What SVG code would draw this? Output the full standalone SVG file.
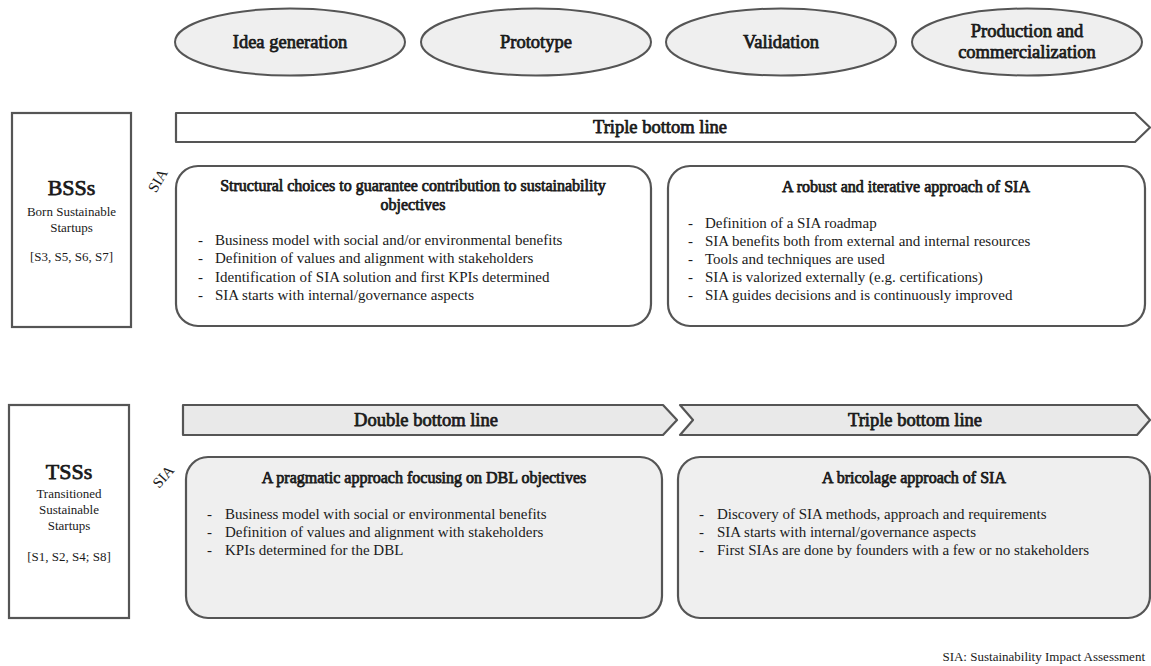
<svg xmlns="http://www.w3.org/2000/svg" width="1151" height="666" viewBox="0 0 1151 666">
<style>
  text { font-family: "Liberation Serif", "Times New Roman", serif; fill: #1a1a1a; }
  .b { stroke: #1a1a1a; stroke-width: 0.75; stroke-linejoin: round; }
  .phase { fill: #efefef; stroke: #555; stroke-width: 2; }
  .ph { font-size: 18.5px; text-anchor: middle; }
  .arrowW { fill: #ffffff; stroke: #555; stroke-width: 2.2; stroke-linejoin: round; }
  .arrowG { fill: #e9e9e9; stroke: #555; stroke-width: 2.2; stroke-linejoin: round; }
  .lab { font-size: 18.5px; text-anchor: middle; }
  .side { fill: #ffffff; stroke: #555; stroke-width: 2.2; }
  .big { font-size: 22px; text-anchor: middle; }
  .small { font-size: 13px; text-anchor: middle; }
  .boxW { fill: #ffffff; stroke: #555; stroke-width: 2.2; }
  .boxG { fill: #efefef; stroke: #555; stroke-width: 2.2; }
  .title { font-size: 16px; text-anchor: middle; }
  .body { font-size: 15px; }
  .sia { font-size: 15px; }
  .foot { font-size: 13px; text-anchor: end; }
</style>

<g id="phase-idea">
  <ellipse class="phase" cx="290" cy="42" rx="115" ry="33.5"/>
  <text class="ph b" x="290" y="48">Idea generation</text>
</g>
<g id="phase-prototype">
  <ellipse class="phase" cx="536" cy="42" rx="115" ry="33.5"/>
  <text class="ph b" x="536" y="48">Prototype</text>
</g>
<g id="phase-validation">
  <ellipse class="phase" cx="781" cy="42" rx="115" ry="33.5"/>
  <text class="ph b" x="781" y="48">Validation</text>
</g>
<g id="phase-production">
  <ellipse class="phase" cx="1027" cy="42" rx="115" ry="33.5"/>
  <text class="ph b" x="1027" y="37">Production and</text>
  <text class="ph b" x="1027" y="58">commercialization</text>
</g>

<g id="bss">
  <rect class="side" x="12" y="113" width="119" height="214"/>
  <text class="big b" x="71.5" y="195">BSSs</text>
  <text class="small" x="71.5" y="216">Born Sustainable</text>
  <text class="small" x="71.5" y="232">Startups</text>
  <text class="small" x="71.5" y="261">[S3, S5, S6, S7]</text>
</g>

<g id="bss-tbl">
  <path class="arrowW" d="M176,113 L1135,113 L1150,127.5 L1135,142 L176,142 Z"/>
  <text class="lab b" x="660" y="133">Triple bottom line</text>
</g>

<g id="bss-sia-label">
  <text class="sia" x="0" y="0" text-anchor="middle" transform="translate(162,183) rotate(-60)">SIA</text>
</g>

<g id="bss-structural">
  <rect class="boxW" x="176" y="166" width="475" height="160" rx="22" ry="22"/>
  <text class="title b" x="413" y="191">Structural choices to guarantee contribution to sustainability</text>
  <text class="title b" x="413" y="210">objectives</text>
  <g class="body">
    <text x="198" y="245">-</text><text x="215" y="245">Business model with social and/or environmental benefits</text>
    <text x="198" y="263">-</text><text x="215" y="263">Definition of values and alignment with stakeholders</text>
    <text x="198" y="282">-</text><text x="215" y="282">Identification of SIA solution and first KPIs determined</text>
    <text x="198" y="300">-</text><text x="215" y="300">SIA starts with internal/governance aspects</text>
  </g>
</g>

<g id="bss-robust">
  <rect class="boxW" x="668" y="166" width="477" height="160" rx="22" ry="22"/>
  <text class="title b" x="906" y="192">A robust and iterative approach of SIA</text>
  <g class="body">
    <text x="688" y="228">-</text><text x="705" y="228">Definition of a SIA roadmap</text>
    <text x="688" y="246">-</text><text x="705" y="246">SIA benefits both from external and internal resources</text>
    <text x="688" y="264">-</text><text x="705" y="264">Tools and techniques are used</text>
    <text x="688" y="282">-</text><text x="705" y="282">SIA is valorized externally (e.g. certifications)</text>
    <text x="688" y="300">-</text><text x="705" y="300">SIA guides decisions and is continuously improved</text>
  </g>
</g>

<g id="tss">
  <rect class="side" x="9" y="405" width="120" height="213"/>
  <text class="big b" x="69" y="479">TSSs</text>
  <text class="small" x="69" y="498">Transitioned</text>
  <text class="small" x="69" y="514">Sustainable</text>
  <text class="small" x="69" y="530">Startups</text>
  <text class="small" x="69" y="561">[S1, S2, S4; S8]</text>
</g>

<g id="tss-dbl">
  <path class="arrowG" d="M183,405 L663,405 L677,420 L663,435 L183,435 Z"/>
  <text class="lab b" x="426" y="426">Double bottom line</text>
</g>

<g id="tss-tbl">
  <path class="arrowG" d="M680,405 L1137,405 L1150,420 L1137,435 L680,435 L693,420 Z"/>
  <text class="lab b" x="915" y="426">Triple bottom line</text>
</g>

<g id="tss-sia-label">
  <text class="sia" x="0" y="0" text-anchor="middle" transform="translate(167,480) rotate(-48)">SIA</text>
</g>

<g id="tss-pragmatic">
  <rect class="boxG" x="186" y="457" width="476" height="161" rx="22" ry="22"/>
  <text class="title b" x="424" y="483">A pragmatic approach focusing on DBL objectives</text>
  <g class="body">
    <text x="207" y="519">-</text><text x="225" y="519">Business model with social or environmental benefits</text>
    <text x="207" y="537">-</text><text x="225" y="537">Definition of values and alignment with stakeholders</text>
    <text x="207" y="555">-</text><text x="225" y="555">KPIs determined for the DBL</text>
  </g>
</g>

<g id="tss-bricolage">
  <rect class="boxG" x="678" y="457" width="472" height="161" rx="22" ry="22"/>
  <text class="title b" x="914" y="483">A bricolage approach of SIA</text>
  <g class="body">
    <text x="699" y="519">-</text><text x="717" y="519">Discovery of SIA methods, approach and requirements</text>
    <text x="699" y="537">-</text><text x="717" y="537">SIA starts with internal/governance aspects</text>
    <text x="699" y="555">-</text><text x="717" y="555">First SIAs are done by founders with a few or no stakeholders</text>
  </g>
</g>

<g id="connectors"></g>

<g id="footnote">
  <text class="foot" x="1145" y="661">SIA: Sustainability Impact Assessment</text>
</g>
</svg>
